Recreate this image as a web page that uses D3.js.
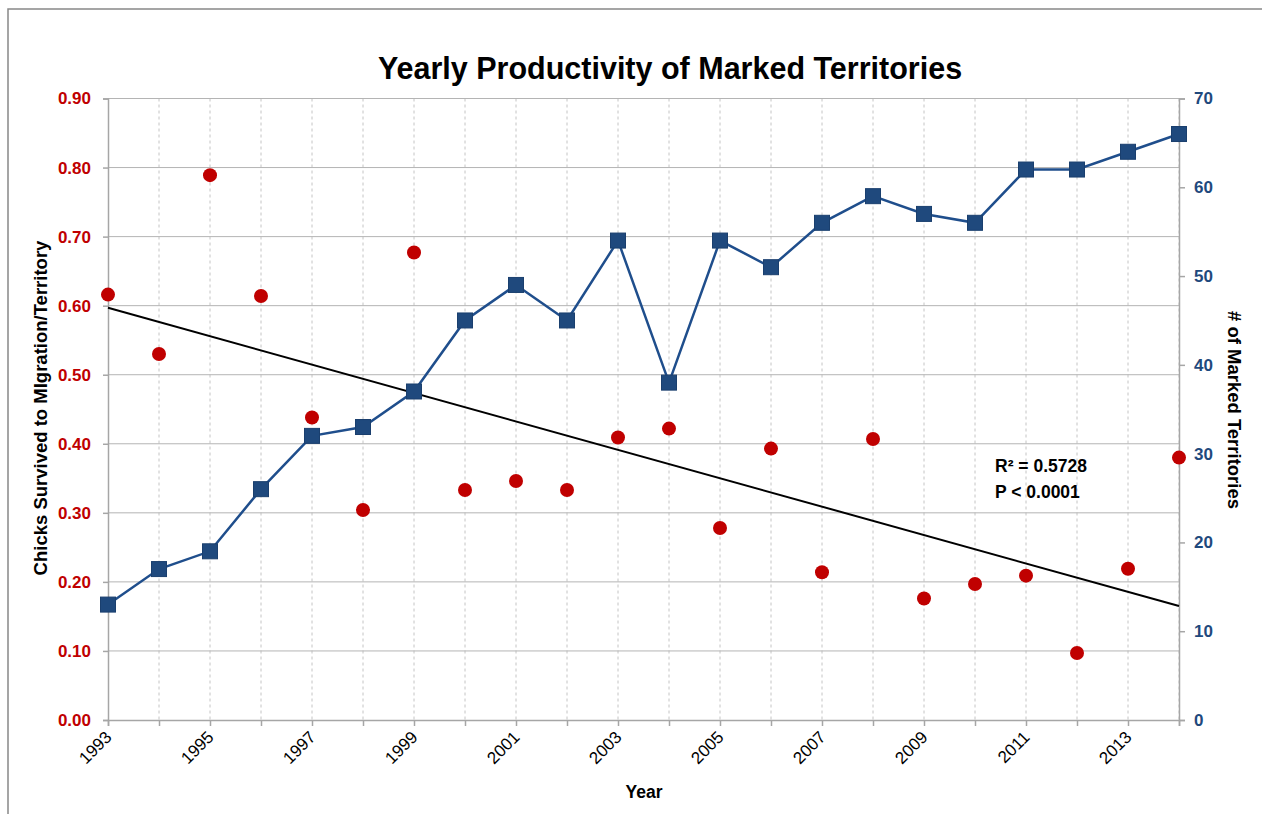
<!DOCTYPE html>
<html lang="en">
<head>
  <meta charset="UTF-8" />
  <title>Yearly Productivity of Marked Territories</title>
  <script src="https://d3js.org/d3.v7.min.js"></script>
  <style>
    body { margin: 0; background: #fff; font-family: "Liberation Sans", Arial, sans-serif; }
    svg { display: block; }
    .grid line { stroke: #b4b4b4; }
    .vgrid line { stroke: #c4c4c4; stroke-dasharray: 3,3; }
  </style>
</head>
<body>
  <svg width="1262" height="814"></svg>
  <script>
    const years = d3.range(1993, 2015);
    const chicksPerTerritory = [0.616, 0.530, 0.789, 0.614, 0.438, 0.304, 0.677, 0.333, 0.346, 0.333, 0.409,
                                0.422, 0.278, 0.393, 0.214, 0.407, 0.176, 0.197, 0.209, 0.097, 0.219, 0.380];
    const markedTerritories = [13, 17, 19, 26, 32, 33, 37, 45, 49, 45, 54, 38, 54, 51, 56, 59, 57, 56, 62, 62, 64, 66];
    const leftTicks = d3.range(0, 0.91, 0.1);
    const rightTicks = d3.range(0, 71, 10);
    const yearLabels = years.filter(y => y % 2 === 1);

    const svg = d3.select("svg");
    const m = { left: 108, right: 1179, top: 98.5, bottom: 720 };

    // outer frame
    svg.append("path").attr("d", "M8,814 V9 H1262").attr("fill", "none").attr("stroke", "#888").attr("stroke-width", 1.5);

    const x = d3.scaleLinear().domain([1993, 2014]).range([m.left, m.right]);
    const yL = d3.scaleLinear().domain([0, 0.9]).range([m.bottom, m.top]);
    const yR = d3.scaleLinear().domain([0, 70]).range([m.bottom, m.top]);

    // vertical dashed grid
    svg.append("g").attr("class", "vgrid")
      .selectAll("line").data(years.slice(1)).join("line")
      .attr("x1", d => x(d)).attr("x2", d => x(d))
      .attr("y1", m.top).attr("y2", m.bottom);

    // horizontal grid
    svg.append("g").attr("class", "grid")
      .selectAll("line").data(leftTicks.slice(1)).join("line")
      .attr("x1", m.left).attr("x2", m.right)
      .attr("y1", d => yL(d)).attr("y2", d => yL(d));

    const axisColor = "#a6a6a6";

    // left axis
    const gl = svg.append("g").attr("transform", `translate(${m.left},0)`)
      .call(d3.axisLeft(yL).tickValues(leftTicks).tickFormat(d3.format(".2f")).tickSizeOuter(0).tickSize(5).tickPadding(12));
    gl.selectAll("text").attr("fill", "#c00000").style("font-size", "17px").style("font-weight", "bold");

    // right axis
    const gr = svg.append("g").attr("transform", `translate(${m.right},0)`)
      .call(d3.axisRight(yR).tickValues(rightTicks).tickFormat(d3.format("d")).tickSizeOuter(0).tickSize(6).tickPadding(9));
    gr.selectAll("text").attr("fill", "#1f497d").style("font-size", "17px").style("font-weight", "bold");

    // bottom axis
    const gb = svg.append("g").attr("transform", `translate(0,${m.bottom})`)
      .call(d3.axisBottom(x).tickValues(years).tickFormat(d => yearLabels.includes(d) ? d : "").tickSizeOuter(0).tickSize(6));
    gb.selectAll("text")
      .attr("fill", "#000").style("font-size", "17px")
      .attr("text-anchor", "end")
      .attr("y", 0).attr("dy", "0.35em").attr("dx", "0")
      .attr("transform", "translate(0,14) rotate(-45)");

    [gl, gr, gb].forEach(g => {
      g.select(".domain").attr("stroke", axisColor).attr("stroke-width", 1.5);
      g.selectAll(".tick line").attr("stroke", axisColor).attr("stroke-width", 1.5);
    });

    // linear trend of chicks per territory
    const xm = d3.mean(years), ym = d3.mean(chicksPerTerritory);
    const slope = d3.sum(years, (d, i) => (d - xm) * (chicksPerTerritory[i] - ym)) / d3.sum(years, d => (d - xm) ** 2);
    const trend = d => ym + slope * (d - xm);
    svg.append("line")
      .attr("x1", x(1993)).attr("y1", yL(trend(1993)))
      .attr("x2", x(2014)).attr("y2", yL(trend(2014)))
      .attr("stroke", "#000").attr("stroke-width", 2);

    // territories line
    svg.append("path")
      .datum(markedTerritories)
      .attr("fill", "none").attr("stroke", "#1f4e8c").attr("stroke-width", 2.5)
      .attr("d", d3.line().x((d, i) => x(years[i])).y(d => yR(d)));

    svg.append("g").selectAll("rect").data(markedTerritories).join("rect")
      .attr("x", (d, i) => x(years[i]) - 7.5).attr("y", d => yR(d) - 7.5)
      .attr("width", 15).attr("height", 15)
      .attr("fill", "#1f497d").attr("stroke", "#1a3f6e").attr("stroke-width", 1);

    // chicks dots
    svg.append("g").selectAll("circle").data(chicksPerTerritory).join("circle")
      .attr("cx", (d, i) => x(years[i])).attr("cy", d => yL(d))
      .attr("r", 7).attr("fill", "#c00000");

    // titles
    svg.append("text").attr("x", 670).attr("y", 79).attr("text-anchor", "middle")
      .style("font-size", "30.5px").style("font-weight", "bold").text("Yearly Productivity of Marked Territories");

    svg.append("text").attr("x", 644).attr("y", 798).attr("text-anchor", "middle")
      .style("font-size", "17.5px").style("font-weight", "bold").text("Year");

    svg.append("text").attr("transform", "translate(47,408) rotate(-90)").attr("text-anchor", "middle")
      .style("font-size", "18.5px").style("font-weight", "bold").text("Chicks Survived to MIgration/Territory");

    svg.append("text").attr("transform", "translate(1228,410) rotate(90)").attr("text-anchor", "middle")
      .style("font-size", "18.5px").style("font-weight", "bold").text("# of Marked Territories");

    svg.append("text").attr("x", 995).attr("y", 472)
      .style("font-size", "17.5px").style("font-weight", "bold").text("R² = 0.5728");
    svg.append("text").attr("x", 995).attr("y", 498)
      .style("font-size", "17.5px").style("font-weight", "bold").text("P < 0.0001");
  </script>
</body>
</html>
